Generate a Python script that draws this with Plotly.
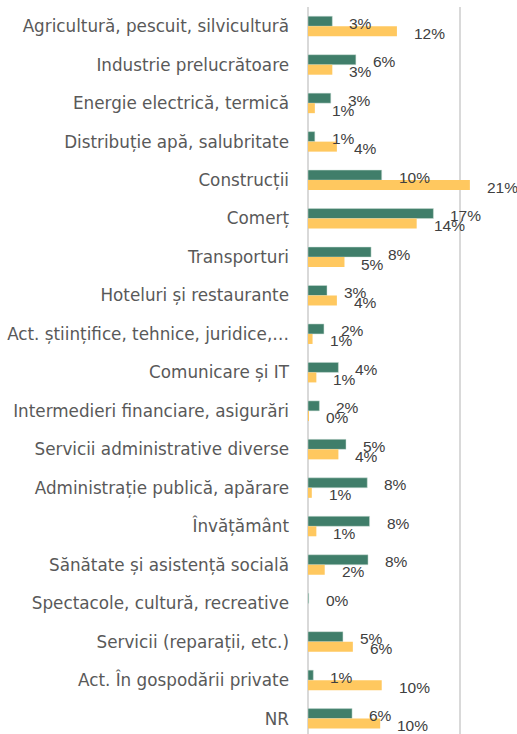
import plotly.graph_objects as go

categories = [
    "Agricultură, pescuit, silvicultură",
    "Industrie prelucrătoare",
    "Energie electrică, termică",
    "Distribuție apă, salubritate",
    "Construcții",
    "Comerț",
    "Transporturi",
    "Hoteluri și restaurante",
    "Act. științifice, tehnice, juridice,…",
    "Comunicare și IT",
    "Intermedieri financiare, asigurări",
    "Servicii administrative diverse",
    "Administrație publică, apărare",
    "Învățământ",
    "Sănătate și asistență socială",
    "Spectacole, cultură, recreative",
    "Servicii (reparații, etc.)",
    "Act. În gospodării private",
    "NR",
]

green_vals = [0.032, 0.063, 0.030, 0.009, 0.097, 0.165, 0.083, 0.025, 0.021, 0.040,
              0.015, 0.050, 0.078, 0.081, 0.079, 0.001, 0.046, 0.007, 0.058]
yellow_vals = [0.117, 0.032, 0.009, 0.038, 0.213, 0.143, 0.048, 0.038, 0.006, 0.011,
               0.001, 0.040, 0.005, 0.011, 0.022, 0.0, 0.059, 0.097, 0.095]
green_labels = ["3%", "6%", "3%", "1%", "10%", "17%", "8%", "3%", "2%", "4%",
                "2%", "5%", "8%", "8%", "8%", "0%", "5%", "1%", "6%"]
yellow_labels = ["12%", "3%", "1%", "4%", "21%", "14%", "5%", "4%", "1%", "1%",
                 "0%", "4%", "1%", "1%", "2%", "", "6%", "10%", "10%"]

green = "#407E6A"
yellow = "#FFC85F"
label_font = dict(family="Liberation Sans Narrow, Liberation Sans, sans-serif", size=15.5, color="#404040")

fig = go.Figure()
fig.add_trace(go.Bar(y=categories, x=green_vals, orientation="h",
                     marker=dict(color=green, line=dict(color="#cfe0d8", width=0.5)),
                     name="A"))
fig.add_trace(go.Bar(y=categories, x=yellow_vals, orientation="h",
                     marker=dict(color=yellow, line=dict(width=0)),
                     name="B"))

# data labels, offset right of the bar ends like the original
for cat, v, t in zip(categories, green_vals, green_labels):
    if t:
        fig.add_annotation(x=v, y=cat, text=t, showarrow=False, xanchor="left",
                           xshift=15, yshift=3, font=label_font)
for cat, v, t in zip(categories, yellow_vals, yellow_labels):
    if t:
        fig.add_annotation(x=v, y=cat, text=t, showarrow=False, xanchor="left",
                           xshift=15, yshift=-7, font=label_font)

fig.update_layout(
    width=517, height=734,
    barmode="group", bargap=0.48, bargroupgap=0,
    showlegend=False,
    plot_bgcolor="white", paper_bgcolor="white",
    margin=dict(l=308, r=0, t=7, b=0),
    xaxis=dict(range=[0, 0.275], dtick=0.2, showticklabels=False,
               showgrid=True, gridcolor="#d9d9d9", gridwidth=1.5,
               zeroline=True, zerolinecolor="#d9d9d9", zerolinewidth=1.5),
    yaxis=dict(range=[18.4, -0.5], ticks="", ticklabelstandoff=18,
               tickfont=dict(family="DejaVu Sans, sans-serif", size=16.8, color="#595959"),
               showline=False, automargin=False),
)

fig.write_html("out.html", config={"displayModeBar": False},
               post_script="document.body.style.margin='0';")
